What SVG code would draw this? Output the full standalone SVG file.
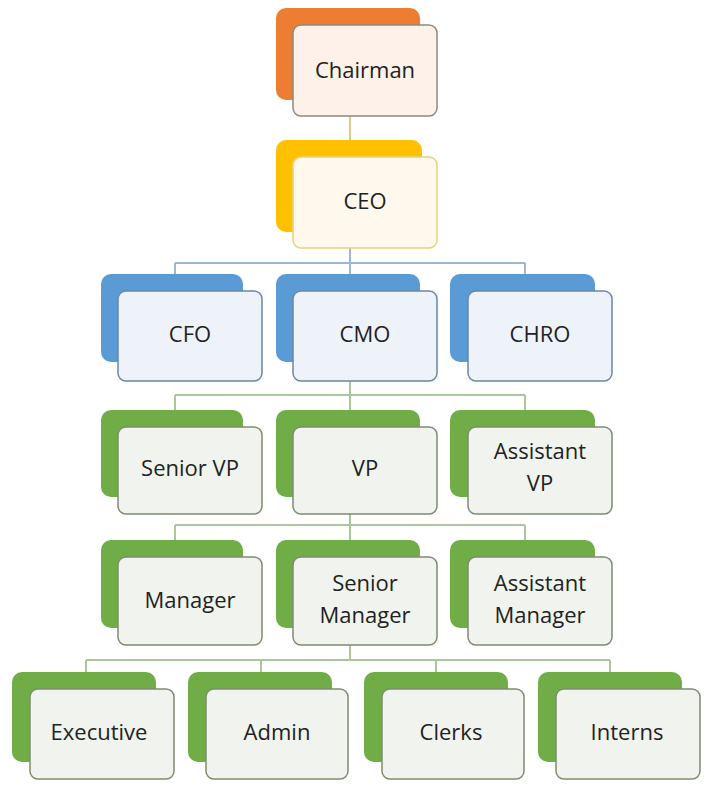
<svg xmlns="http://www.w3.org/2000/svg" width="720" height="801" viewBox="0 0 720 801">
<style>
.b{stroke:none}
.f{stroke-width:1.5}
.t{font-family:"Open Sans","Liberation Sans",sans-serif;font-size:22px;fill:#222;text-anchor:middle}
.o .b{fill:#ED7D31}.o .f{fill:#FDF1EA;stroke:#8a8a80}
.y .b{fill:#FFC000}.y .f{fill:#FEF9EC;stroke:#e6d27a}
.u .b{fill:#5B9BD5}.u .f{fill:#EEF3FA;stroke:#6a86a8}
.g .b{fill:#70AD47}.g .f{fill:#F1F4EE;stroke:#7f8a70}
.c{fill:none;stroke-width:2}
</style>
<rect width="720" height="801" fill="#fff"/>
<g id="connectors">
<path class="c" stroke="#d9c98a" d="M350 116V157"/>
<path class="c" stroke="#9ab7d6" d="M350 248V263M175 263H525M175 263V274M350 263V274M525 263V274"/>
<path class="c" stroke="#a9c79a" d="M350 381V395M175 395H525M175 395V410M350 395V410M525 395V410"/>
<path class="c" stroke="#a9c79a" d="M350 514V525M175 525H525M175 525V540M350 525V540M525 525V540"/>
<path class="c" stroke="#a9c79a" d="M350 645V660M86 660H610M86 660V672M261 660V672M436 660V672M610 660V672"/>
</g>
<g id="chairman" class="o"><rect class="b" x="276" y="8" width="144" height="92" rx="10"/><rect class="f" x="293" y="25" width="144" height="91" rx="8"/><text class="t" x="365" y="78">Chairman</text></g>
<g id="ceo" class="y"><rect class="b" x="276" y="140" width="146" height="92" rx="10"/><rect class="f" x="293" y="157" width="144" height="91" rx="8"/><text class="t" x="365" y="209">CEO</text></g>
<g id="cfo" class="u"><rect class="b" x="101" y="274" width="142" height="88" rx="10"/><rect class="f" x="118" y="291" width="144" height="90" rx="8"/><text class="t" x="190" y="342">CFO</text></g>
<g id="cmo" class="u"><rect class="b" x="276" y="274" width="144" height="88" rx="10"/><rect class="f" x="293" y="291" width="144" height="90" rx="8"/><text class="t" x="365" y="342">CMO</text></g>
<g id="chro" class="u"><rect class="b" x="450" y="274" width="145" height="88" rx="10"/><rect class="f" x="468" y="291" width="144" height="90" rx="8"/><text class="t" x="540" y="342">CHRO</text></g>
<g id="seniorvp" class="g"><rect class="b" x="101" y="410" width="142" height="87" rx="10"/><rect class="f" x="118" y="427" width="144" height="87" rx="8"/><text class="t" x="190" y="476">Senior VP</text></g>
<g id="vp" class="g"><rect class="b" x="276" y="410" width="144" height="87" rx="10"/><rect class="f" x="293" y="427" width="144" height="87" rx="8"/><text class="t" x="365" y="476">VP</text></g>
<g id="assistantvp" class="g"><rect class="b" x="450" y="410" width="145" height="87" rx="10"/><rect class="f" x="468" y="427" width="144" height="87" rx="8"/><text class="t" x="540" y="459">Assistant</text><text class="t" x="540" y="491">VP</text></g>
<g id="manager" class="g"><rect class="b" x="101" y="540" width="142" height="88" rx="10"/><rect class="f" x="118" y="557" width="144" height="88" rx="8"/><text class="t" x="190" y="608">Manager</text></g>
<g id="seniormanager" class="g"><rect class="b" x="276" y="540" width="144" height="88" rx="10"/><rect class="f" x="293" y="557" width="144" height="88" rx="8"/><text class="t" x="365" y="591">Senior</text><text class="t" x="365" y="623">Manager</text></g>
<g id="assistantmanager" class="g"><rect class="b" x="450" y="540" width="145" height="88" rx="10"/><rect class="f" x="468" y="557" width="144" height="88" rx="8"/><text class="t" x="540" y="591">Assistant</text><text class="t" x="540" y="623">Manager</text></g>
<g id="executive" class="g"><rect class="b" x="12" y="672" width="144" height="90" rx="10"/><rect class="f" x="30" y="689" width="144" height="90" rx="8"/><text class="t" x="99" y="740">Executive</text></g>
<g id="admin" class="g"><rect class="b" x="188" y="672" width="144" height="90" rx="10"/><rect class="f" x="206" y="689" width="142" height="90" rx="8"/><text class="t" x="277" y="740">Admin</text></g>
<g id="clerks" class="g"><rect class="b" x="364" y="672" width="144" height="90" rx="10"/><rect class="f" x="382" y="689" width="142" height="90" rx="8"/><text class="t" x="451" y="740">Clerks</text></g>
<g id="interns" class="g"><rect class="b" x="538" y="672" width="144" height="90" rx="10"/><rect class="f" x="556" y="689" width="144" height="90" rx="8"/><text class="t" x="627" y="740">Interns</text></g>
</svg>
